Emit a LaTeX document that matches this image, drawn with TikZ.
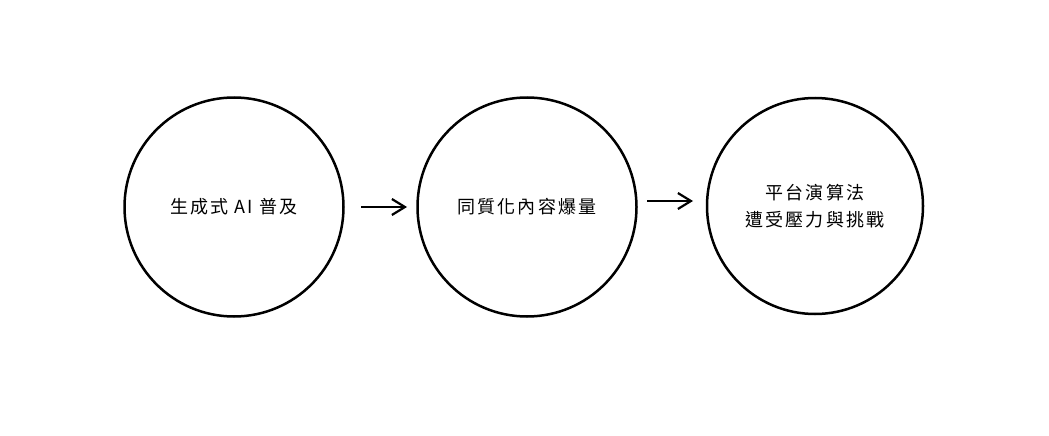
\documentclass[tikz,border=0pt]{standalone}
\usepackage{fontspec}
\newfontfamily\cjk[LetterSpace=12]{Noto Sans CJK TC}
\usetikzlibrary{arrows.meta}
\begin{document}
\begin{tikzpicture}[
        x=1pt, y=-1pt,
        stage/.style={circle, draw, line width=2.5pt, minimum size=219pt, inner sep=0pt, align=center, font=\cjk\fontsize{18pt}{27pt}\selectfont},
        flow/.style={-{Straight Barb[length=13pt, width=16pt, line width=2.2pt]}, line width=2.4pt}
    ]
        \useasboundingbox (0,0) rectangle (1049,436);

        % Stages
        \node[stage] (s1) at (234,207) {生成式 AI 普及};
        \node[stage] (s2) at (527,207) {同質化內容爆量};
        \node[stage, minimum size=216pt] (s3) at (815,206) {平台演算法\\遭受壓力與挑戰};

        % Arrow ends
        \coordinate (a1) at (361,207);
        \coordinate (b1) at (407,207);
        \coordinate (a2) at (647,201);
        \coordinate (b2) at (693,201);

        \draw[flow] (a1) -- (b1);
        \draw[flow] (a2) -- (b2);
    \end{tikzpicture}
\end{document}
